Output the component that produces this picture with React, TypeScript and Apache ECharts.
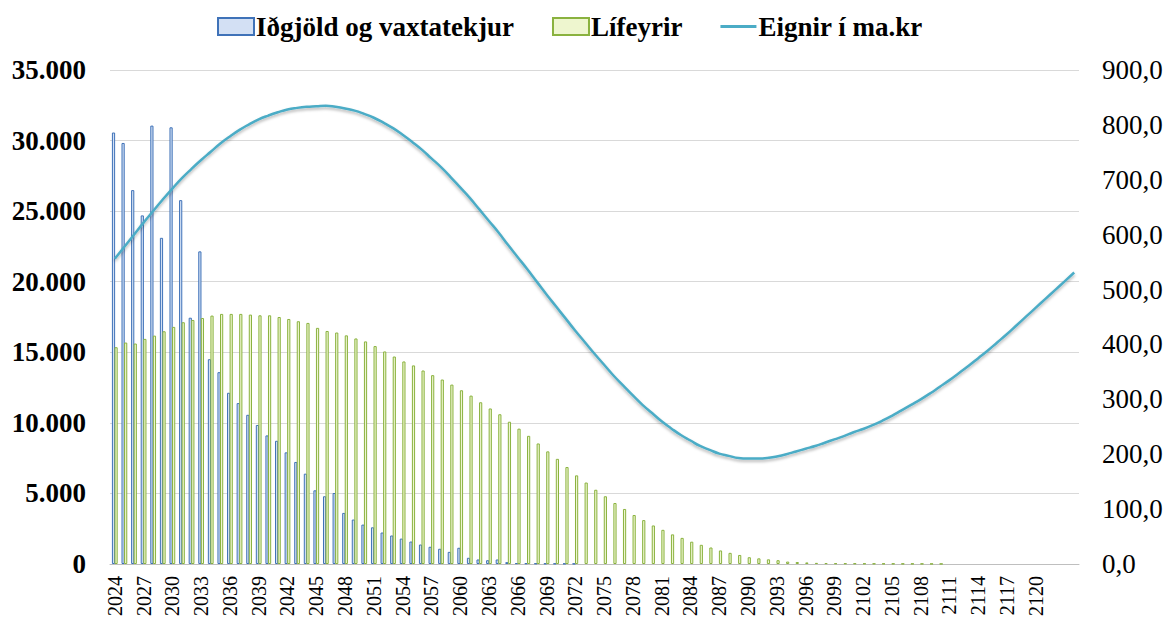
import React, { useEffect, useRef } from "react";
import * as echarts from "echarts";

// Categories: years 2024..2124
const years: string[] = Array.from({ length: 101 }, (_, i) => String(2024 + i));

// Iðgjöld og vaxtatekjur (left axis)
const idgjold: number[] = [
  30570, 29830, 26490, 24700, 31060, 23110, 30940, 25780, 17450, 22150, // 2024-2033
  14510, 13590, 12130, 11400, 10570, 9850, 9110, 8730, 7910, 7230, // 2034-2043
  6400, 5220, 4800, 5030, 3620, 3150, 2790, 2600, 2230, 2020, // 2044-2053
  1800, 1590, 1380, 1220, 1080, 860, 1150, 440, 320, 270, // 2054-2063
  320, 130, 60, 50, 40, 35, 30, 25, 20, 0, // 2064-2073
  0, 0, 0, 0, 0, 0, 0, 0, 0, 0, // 2074-2083
  0, 0, 0, 0, 0, 0, 0, 0, 0, 0, // 2084-2093
  0, 0, 0, 0, 0, 0, 0, 0, 0, 0, // 2094-2103
  0, 0, 0, 0, 0, 0, 0, 0, 0, 0, // 2104-2113
  0, 0, 0, 0, 0, 0, 0, 0, 0, 0, 0, // 2114-2124
];

// Lífeyrir (left axis)
const lifeyrir: number[] = [
  15360, 15690, 15620, 15950, 16180, 16490, 16800, 17130, 17290, 17430, // 2024-2033
  17600, 17720, 17720, 17720, 17670, 17620, 17620, 17500, 17360, 17200, // 2034-2043
  17080, 16730, 16510, 16400, 16200, 15980, 15770, 15440, 15060, 14700, // 2044-2053
  14350, 14070, 13710, 13380, 13070, 12710, 12310, 11930, 11460, 11020, // 2054-2063
  10610, 10080, 9590, 9080, 8540, 7980, 7450, 6870, 6280, 5770, // 2064-2073
  5260, 4800, 4320, 3900, 3470, 3110, 2730, 2420, 2100, 1850, // 2074-2083
  1580, 1360, 1170, 960, 790, 640, 480, 400, 330, 270, // 2084-2093
  170, 140, 110, 80, 60, 50, 45, 40, 35, 30, // 2094-2103
  28, 25, 22, 20, 18, 15, 12, 0, 0, 0, // 2104-2113
  0, 0, 0, 0, 0, 0, 0, 0, 0, 0, 0, // 2114-2124
];

// Eignir í ma.kr (right axis)
const eignir: number[] = [
  556, 578, 600, 622, 643, 664, 684, 703, 720, 736,
  751, 766, 779, 791, 801, 810, 817, 823, 828, 831,
  833, 834, 835, 833, 830, 826, 820, 813, 804, 794,
  782, 769, 755, 739, 723, 705, 686, 667, 646, 625,
  604, 581, 559, 537, 514, 491, 469, 447, 425, 404,
  383, 363, 343, 325, 307, 290, 275, 260, 247, 235,
  225, 215, 208, 201, 197, 193, 192, 192, 193, 196,
  200, 205, 210, 215, 221, 227, 233, 240, 246, 253,
  261, 270, 280, 290, 300, 311, 323, 335, 348, 361,
  375, 389, 404, 419, 435, 451, 467, 483, 499, 515,
  531,
];

const seriesNames = ["Iðgjöld og vaxtatekjur", "Lífeyrir", "Eignir í ma.kr"];
const lastLabelYear = 2120;

const FONT = '"Liberation Serif", "Times New Roman", serif';

// zero values are not drawn (like the original chart)
const hideZero = (arr: number[]) => arr.map((v) => (v === 0 ? null : v));

export default function App() {
  const ref = useRef<HTMLDivElement>(null);

  useEffect(() => {
    if (!ref.current) return;
    const chart = echarts.init(ref.current, null, { renderer: "svg" });
    chart.setOption({
      animation: false,
      backgroundColor: "#ffffff",
      legend: {
        data: [
          { name: seriesNames[0], icon: "rect" },
          { name: seriesNames[1], icon: "rect" },
          { name: seriesNames[2], icon: "path://M0,0 H36 V3 H0 Z" },
        ],
        left: 212,
        top: 8,
        itemWidth: 36,
        itemHeight: 17,
        itemGap: 38,
        textStyle: {
          fontFamily: FONT,
          fontWeight: "bold",
          fontSize: 27,
          color: "#000",
          padding: [0, 0, 0, -3],
        },
      },
      grid: { left: 110, right: 92, top: 70, bottom: 60, containLabel: false },
      xAxis: {
        type: "category",
        data: years,
        boundaryGap: true,
        axisLine: { show: true, lineStyle: { color: "#BFBFBF", width: 1 } },
        axisTick: { show: false },
        axisLabel: {
          interval: 2,
          rotate: 90,
          margin: 12,
          fontFamily: FONT,
          fontSize: 20,
          color: "#000",
          formatter: (v: string) => (Number(v) > lastLabelYear ? "" : v),
        },
        splitLine: { show: false },
      },
      yAxis: [
        {
          type: "value",
          min: 0,
          max: 35000,
          interval: 5000,
          axisLine: { show: false },
          axisTick: { show: false },
          axisLabel: {
            margin: 24,
            fontFamily: FONT,
            fontWeight: "bold",
            fontSize: 27,
            color: "#000",
            formatter: (v: number) => (v === 0 ? "0" : (v / 1000).toFixed(3)),
          },
          splitLine: { show: true, lineStyle: { color: "#D9D9D9", width: 1 } },
        },
        {
          type: "value",
          min: 0,
          max: 900,
          interval: 100,
          position: "right",
          axisLine: { show: false },
          axisTick: { show: false },
          axisLabel: {
            margin: 23,
            fontFamily: FONT,
            fontSize: 27,
            color: "#000",
            formatter: (v: number) => v.toFixed(1).replace(".", ","),
          },
          splitLine: { show: false },
        },
      ],
      series: [
        {
          name: seriesNames[0],
          type: "bar",
          data: hideZero(idgjold),
          barWidth: 3.2,
          barGap: "-20%",
          itemStyle: {
            color: "#D3E0F4",
            borderColor: "#3F72B8",
            borderWidth: 1,
          },
        },
        {
          name: seriesNames[1],
          type: "bar",
          data: hideZero(lifeyrir),
          barWidth: 3.2,
          itemStyle: {
            color: "#EEF6CF",
            borderColor: "#8AB23F",
            borderWidth: 1,
          },
        },
        {
          name: seriesNames[2],
          type: "line",
          yAxisIndex: 1,
          data: eignir,
          smooth: true,
          symbol: "none",
          lineStyle: {
            color: "#4BACC6",
            width: 2.5,
            shadowColor: "rgba(0,0,0,0.3)",
            shadowBlur: 3,
            shadowOffsetY: 2,
          },
          itemStyle: { color: "#4BACC6" },
          z: 5,
        },
      ],
    });
    return () => chart.dispose();
  }, []);

  return (
    <div
      ref={ref}
      style={{ position: "absolute", left: 0, top: 0, width: 1171, height: 624 }}
    />
  );
}
